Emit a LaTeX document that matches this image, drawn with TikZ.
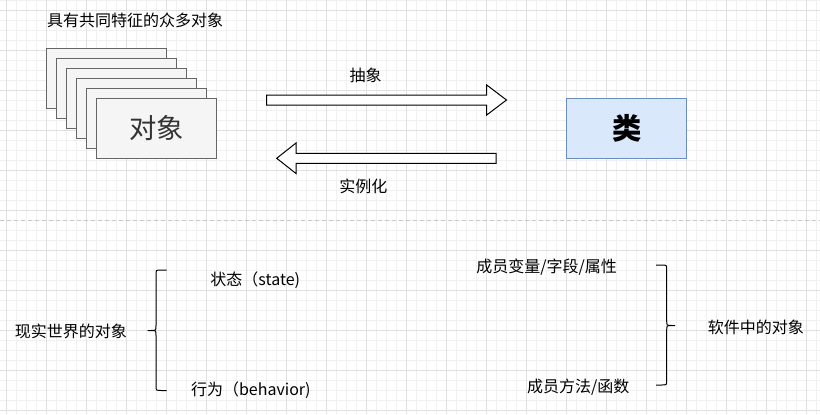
\documentclass[tikz,border=0pt]{standalone}
\usepackage{fontspec}
\setmainfont{Noto Sans CJK SC}
\definecolor{gridmajor}{HTML}{E0E0E0}
\definecolor{gridminor}{HTML}{F0F0F0}
\definecolor{objfill}{HTML}{F5F5F5}
\definecolor{objline}{HTML}{666666}
\definecolor{objtext}{HTML}{333333}
\definecolor{clsfill}{HTML}{DAE8FC}
\definecolor{clsline}{HTML}{6C8EBF}
\definecolor{sepline}{HTML}{C8C8C8}
\tikzset{
  objbox/.style={draw=objline, fill=objfill, line width=0.75pt, minimum width=90pt, minimum height=45pt, inner sep=0pt},
  clsbox/.style={draw=clsline, fill=clsfill, line width=0.75pt, minimum width=90pt, minimum height=45pt, inner sep=0pt},
  lbl/.style={font=\fontsize{12pt}{14pt}\selectfont, inner sep=0pt, text=black},
  blockarrow/.style={draw=black, fill=white, line width=0.75pt, line join=miter},
  bracestyle/.style={draw=black, line width=0.75pt},
}
\begin{document}
\begin{tikzpicture}[x=0.75pt, y=-0.75pt]
\useasboundingbox (0,0) rectangle (820,414);
\fill[white] (0,0) rectangle (820,414);
% grid
\foreach \i in {0,...,82} {
  \draw[gridminor, line width=0.5pt] ({6.67+10*\i},0) -- ({6.67+10*\i},414);
}
\foreach \j in {0,...,41} {
  \draw[gridminor, line width=0.5pt] (0,{10*\j}) -- (820,{10*\j});
}
\foreach \i in {0,...,20} {
  \draw[gridmajor, line width=0.6pt] ({6.67+40*\i},0) -- ({6.67+40*\i},414);
}
\foreach \j in {0,...,10} {
  \draw[gridmajor, line width=0.6pt] (0,{10+40*\j}) -- (820,{10+40*\j});
}
% title
\node[lbl] (title) at (135,20) {具有共同特征的众多对象};
% stacked objects
\node[objbox] (o1) at (106.7,78.3) {};
\node[objbox] (o2) at (116.7,88.3) {};
\node[objbox] (o3) at (126.7,98.3) {};
\node[objbox] (o4) at (136.7,108.3) {};
\node[objbox] (o5) at (146.7,118.3) {};
\node[objbox, text=objtext, font=\fontsize{20.5pt}{24pt}\selectfont] (o6) at (156.7,128.3) {对象};
% class
\node[clsbox, font=\fontsize{22pt}{26pt}\selectfont\bfseries] (cls) at (626.7,128.3) {类};
% abstraction arrow (right)
\draw[blockarrow] (266.7,95) -- (486.7,95) -- (486.7,85) -- (506.5,100) -- (486.7,115) -- (486.7,105) -- (266.7,105) -- cycle;
\node[lbl] (abs) at (365.7,75) {抽象};
% instantiation arrow (left)
\draw[blockarrow] (496,153.3) -- (296,153.3) -- (296,143) -- (276.7,158.3) -- (296,173.5) -- (296,163.3) -- (496,163.3) -- cycle;
\node[lbl] (inst) at (363.3,186) {实例化};
% separator
\draw[sepline, line width=0.75pt, dash pattern=on 3pt off 2.25pt] (0,220) -- (820,220);
% real world objects
\node[lbl] (real) at (70.8,331.5) {现实世界的对象};
\draw[bracestyle] (166.5,270) -- (161,270) .. controls (156,270) .. (156,275) -- (156,325.5)
  .. controls (156,330.5) .. (151,330.5) -- (147.5,330.5);
\draw[bracestyle] (151,330.5) .. controls (156,330.5) .. (156,335.5) -- (156,385.5)
  .. controls (156,390.5) .. (161,390.5) -- (166.5,390.5);
\node[lbl] (state) at (255.3,280) {状态（state)};
\node[lbl] (behav) at (250.8,390.5) {行为（behavior)};
% software objects
\node[lbl] (field) at (546.7,267) {成员变量/字段/属性};
\node[lbl] (meth) at (578.3,387) {成员方法/函数};
\draw[bracestyle] (656,265) -- (661.7,265) .. controls (666.7,265) .. (666.7,270) -- (666.7,320.5)
  .. controls (666.7,325.5) .. (671.7,325.5) -- (675,325.5);
\draw[bracestyle] (671.7,325.5) .. controls (666.7,325.5) .. (666.7,330.5) -- (666.7,380)
  .. controls (666.7,385) .. (661.7,385) -- (656,385);
\node[lbl] (soft) at (755.8,327) {软件中的对象};
\end{tikzpicture}
\end{document}
